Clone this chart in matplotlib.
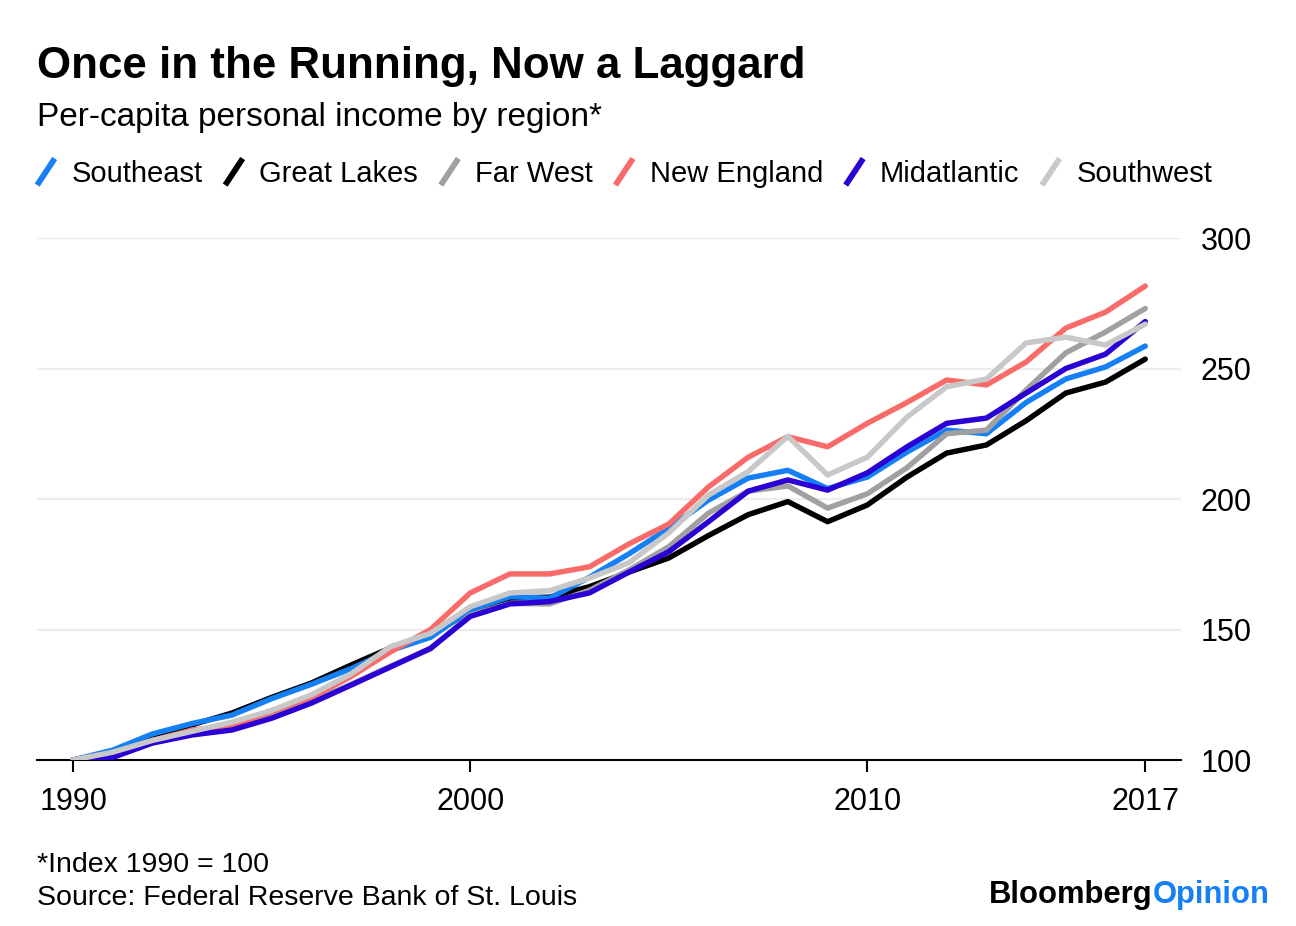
import matplotlib
matplotlib.use('Agg')
from matplotlib import pyplot
from matplotlib.lines import Line2D
from matplotlib.legend_handler import HandlerBase

years = list(range(1990, 2018))

southeast = [100, 103.8, 110, 114, 117.2, 123.5, 129, 135, 142, 147,
             157.5, 162.6, 162, 170, 179, 188.8, 199.6, 208, 211, 204,
             208.4, 218, 226.4, 225, 237, 246, 250.6, 258.6]
great_lakes = [100, 103, 109, 113.5, 118, 124, 129.5, 136.4, 143, 148,
               156.8, 162, 162.4, 166.4, 172, 177.4, 186, 194, 199, 191.3,
               197.7, 208.4, 217.6, 220.7, 230, 240.6, 244.8, 253.6]
far_west = [100, 101.5, 107, 110, 112.5, 117, 122.5, 129, 136, 142.5,
            155.5, 160, 159.8, 165, 172.8, 181.7, 194.6, 203, 205, 196.5,
            202, 212, 225, 226.4, 241.8, 256, 264, 273]
new_england = [100, 102, 107.5, 111.5, 113, 118.5, 124, 132, 141.5, 150,
               164, 171.3, 171.3, 174, 182.8, 190.4, 204.6, 216, 223.9, 220,
               229, 237, 245.6, 243.7, 252.5, 265.5, 271.6, 281.6]
midatlantic = [100, 101, 106.5, 109.6, 111.5, 116, 121.8, 128.7, 135.7, 142.8,
               155, 159.8, 160.7, 164, 172, 179.8, 191.3, 203, 207.3, 203.4,
               210, 220, 229, 231, 240.6, 250, 255.5, 268]
southwest = [100, 103, 107.5, 111, 114.5, 119, 125, 133, 143.5, 148.5,
             158.7, 164, 164.9, 169.7, 175.6, 187, 201.5, 210.5, 224, 209.2,
             216, 231.4, 243, 246, 259.8, 262, 259, 267]

series = [
    ('Southeast', southeast, '#1580f5'),
    ('Great Lakes', great_lakes, '#000000'),
    ('Far West', far_west, '#a0a0a0'),
    ('New England', new_england, '#f96b69'),
    ('Midatlantic', midatlantic, '#2a00d4'),
    ('Southwest', southwest, '#c8c8c8'),
]
zorders = {'Southeast': 3, 'Great Lakes': 2, 'Far West': 4,
           'New England': 5, 'Midatlantic': 6, 'Southwest': 7}

xticks = [1990, 2000, 2010, 2017]
yticks = [100, 150, 200, 250, 300]

pyplot.rcParams['font.family'] = ['Liberation Sans', 'DejaVu Sans']


class DiagHandler(HandlerBase):
    # short slanted stroke instead of the usual horizontal legend line
    def create_artists(self, legend, orig_handle, xdescent, ydescent,
                       width, height, fontsize, trans):
        x0, y0 = -xdescent, -ydescent
        line = Line2D([x0 + 0.1 * width, x0 + 0.9 * width],
                      [y0 - 0.15 * height, y0 + 1.15 * height],
                      color=orig_handle.get_color(), lw=4.2,
                      solid_capstyle='butt', transform=trans)
        return [line]


fig = pyplot.figure(figsize=(12.96, 9.26), dpi=100)
ax = fig.add_axes([37 / 1296, 1 - 760 / 926, (1181 - 37) / 1296, (760 - 238) / 926])

handles = []
for name, vals, color in series:
    l, = ax.plot(years, vals, color=color, lw=3.9, label=name,
                 solid_capstyle='round', solid_joinstyle='round',
                 zorder=zorders[name])
    handles.append(l)

ax.set_xlim(1989.09, 2017.9)
ax.set_ylim(100, 300)
ax.set_xticks(xticks)
ax.set_xticklabels([str(t) for t in xticks])
ax.set_yticks(yticks)
ax.yaxis.tick_right()
for y in yticks[1:]:
    ax.axhline(y, color='#ececec', lw=1.6, zorder=0)
for s in ['top', 'left', 'right']:
    ax.spines[s].set_visible(False)
ax.spines['bottom'].set_linewidth(1.5)
ax.spines['bottom'].set_zorder(1)
ax.tick_params(axis='x', direction='out', length=8.5, width=1.5, pad=11,
               labelsize=22, colors='black')
ax.tick_params(axis='y', length=0, pad=14, labelsize=22)
ax.set_facecolor('none')

fig.legend(handles=handles, labels=[s[0] for s in series],
           handler_map={Line2D: DiagHandler()},
           loc='center left', bbox_to_anchor=(35 / 1296, 1 - 174 / 926),
           ncol=6, frameon=False, fontsize=21, handlelength=0.75,
           handletextpad=0.5, columnspacing=0.7, borderpad=0,
           borderaxespad=0)

fig.text(37 / 1296, 1 - 78 / 926, 'Once in the Running, Now a Laggard',
         fontsize=31.6, fontweight='bold', va='baseline', ha='left')
fig.text(37 / 1296, 1 - 126 / 926, 'Per-capita personal income by region*',
         fontsize=24, va='baseline', ha='left')
fig.text(37 / 1296, 1 - 872 / 926, '*Index 1990 = 100',
         fontsize=20.5, va='baseline', ha='left')
fig.text(37 / 1296, 1 - 905 / 926, 'Source: Federal Reserve Bank of St. Louis',
         fontsize=20.5, va='baseline', ha='left')

t1 = fig.text(989 / 1296, 1 - 903 / 926, 'Bloomberg', fontsize=22.3,
              fontweight='bold', va='baseline', ha='left')
ax.annotate('Opinion', xy=(1, 0), xycoords=t1, va='bottom', ha='left',
            fontsize=22.3, fontweight='bold', color='#1580f5',
            annotation_clip=False)

fig.savefig('out.png', dpi=100)
